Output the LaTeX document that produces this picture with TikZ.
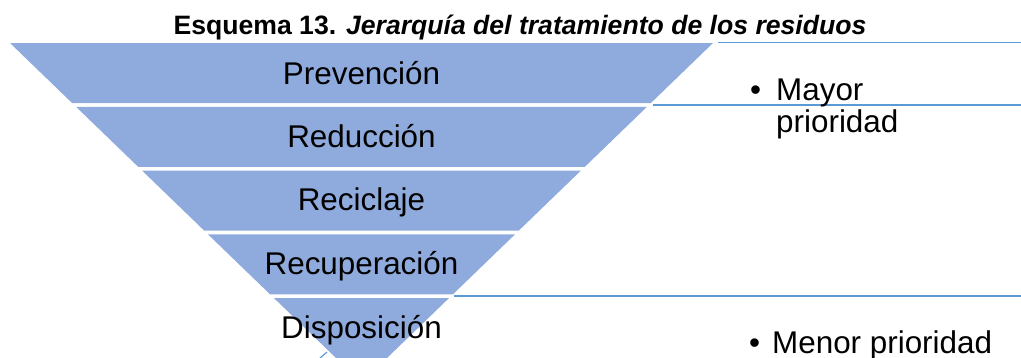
\documentclass[tikz,border=0pt]{standalone}
\usepackage{fontspec}
\setmainfont{Liberation Sans}
\usepackage{tikz}
\usetikzlibrary{calc}
\definecolor{pyrblue}{HTML}{8FAADC}
\definecolor{lineblue}{HTML}{5B9BD5}
\tikzset{
  band/.style={fill=pyrblue,draw=none},
  levellabel/.style={anchor=base,inner sep=0pt,font=\fontsize{31.4}{32}\selectfont},
  sideline/.style={draw=lineblue,line width=2pt},
  sidetext/.style={anchor=base west,inner sep=0pt,align=left,font=\fontsize{31.4}{32}\selectfont},
}

\begin{document}
\begin{tikzpicture}[x=1pt,y=-1pt]
            \useasboundingbox (0,0) rectangle (1021,357);
            \clip (0,0) rectangle (1021,357);
                % vertices
                \coordinate (b1tl) at (10,43);
                \coordinate (b1tr) at (713,43);
                \coordinate (b1br) at (650.9,103);
                \coordinate (b1bl) at (72.1,103);
                \coordinate (b2tl) at (76.0,106.75);
                \coordinate (b2tr) at (647.0,106.75);
                \coordinate (b2br) at (584.9,166.75);
                \coordinate (b2bl) at (138.1,166.75);
                \coordinate (b3tl) at (142.0,170.5);
                \coordinate (b3tr) at (581.0,170.5);
                \coordinate (b3br) at (518.9,230.5);
                \coordinate (b3bl) at (204.1,230.5);
                \coordinate (b4tl) at (207.9,234.25);
                \coordinate (b4tr) at (515.1,234.25);
                \coordinate (b4br) at (453.0,294.25);
                \coordinate (b4bl) at (270.0,294.25);
                \coordinate (b5tl) at (273.9,298);
                \coordinate (b5tr) at (449.1,298);
                \coordinate (apex) at (361.5,382.6);
                % bands
                \fill[band] (b1tl) -- (b1tr) -- (b1br) -- (b1bl) -- cycle;
                \fill[band] (b2tl) -- (b2tr) -- (b2br) -- (b2bl) -- cycle;
                \fill[band] (b3tl) -- (b3tr) -- (b3br) -- (b3bl) -- cycle;
                \fill[band] (b4tl) -- (b4tr) -- (b4br) -- (b4bl) -- cycle;
                \fill[band] (b5tl) -- (b5tr) -- (apex) -- cycle;
                % level labels
                \node[levellabel] (prev) at (361.5,84) {Prevención};
                \node[levellabel] (redu) at (361.5,147) {Reducción};
                \node[levellabel] (reci) at (361.5,210.5) {Reciclaje};
                \node[levellabel] (recu) at (361.5,274.5) {Recuperación};
                \node[levellabel] (disp) at (361.5,338) {Disposición};
                % title
                \node[anchor=base,inner sep=0pt,font=\bfseries\fontsize{26.6}{28}\selectfont] (title) at (520,34)
                    {Esquema 13. \textit{Jerarquía del tratamiento de los residuos}};
                % side lines
                \coordinate (l1a) at (718,42.5);
                \coordinate (l1b) at (1021,42.5);
                \coordinate (l2a) at (653,105);
                \coordinate (l2b) at (1021,105);
                \coordinate (l3a) at (454,296.3);
                \coordinate (l3b) at (1021,296.3);
                \coordinate (f1) at (327,352);
                \coordinate (f2) at (320,358);
                \draw[sideline,line width=1.5pt] (l1a) -- (l1b);
                \draw[sideline] (l2a) -- (l2b);
                \draw[sideline] (l3a) -- (l3b);
                \draw[sideline,line width=1.2pt] (f1) -- (f2);
                % side texts
                \node[sidetext] (bul1) at (750,100) {•};
                \node[sidetext] (mayor) at (776,132) {Mayor\\prioridad};
                \node[sidetext] (bul2) at (749,353) {•};
                \node[sidetext] (menor) at (772,353) {Menor prioridad};
        \end{tikzpicture}
\end{document}
